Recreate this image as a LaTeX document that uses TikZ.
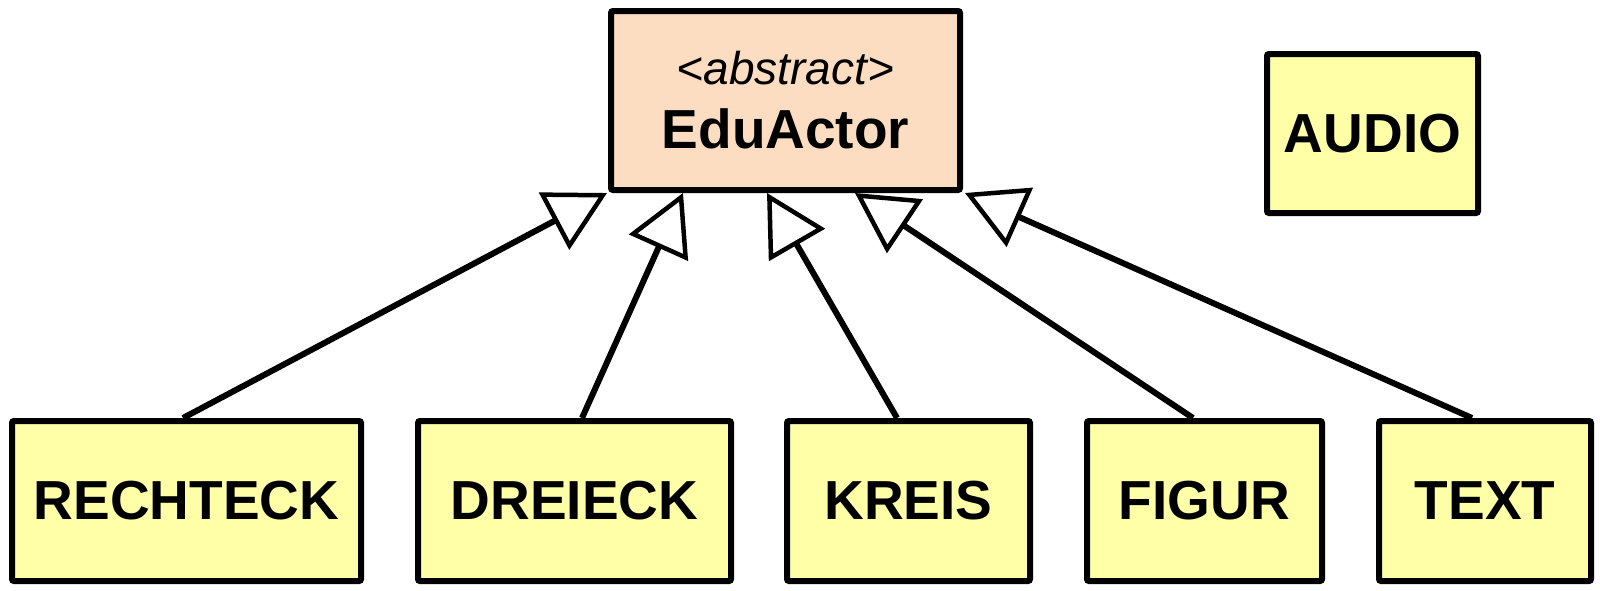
\documentclass[tikz,border=0pt]{standalone}
\usepackage{fontspec}
\setmainfont{Liberation Sans}
\usetikzlibrary{arrows.meta,calc}
\definecolor{peach}{HTML}{FCDDC1}
\definecolor{pale}{HTML}{FFFFA8}
\begin{document}
\begin{tikzpicture}[x=1pt,y=-1pt,
 box/.style={draw=black, line width=6pt, rounded corners=2pt, inner sep=0pt, anchor=center},
 child/.style={box, fill=pale, minimum height=160pt, font=\fontsize{55}{64}\selectfont\bfseries},
 gen/.style={line width=6pt, -{Triangle[open, fill=white, length=60pt, width=64pt, line width=4.5pt]}},
]
\useasboundingbox (0,0) rectangle (1600,590);
\node[box, fill=peach, minimum width=349pt, minimum height=179pt, align=center,
      font=\fontsize{55}{64}\selectfont] (edu) at (785.5,100.5)
  {{\fontsize{46}{64}\selectfont\itshape <abstract>}\\{\bfseries EduActor}};
\node[child, minimum width=211pt, minimum height=159pt] (audio) at (1372.5,133.5) {AUDIO};
\node[child, minimum width=349pt] (rechteck) at (186.5,501) {RECHTECK};
\node[child, minimum width=313pt] (dreieck) at (574.5,501) {DREIECK};
\node[child, minimum width=243pt] (kreis) at (908.5,501) {KREIS};
\node[child, minimum width=235pt] (figur) at (1204.5,501) {FIGUR};
\node[child, minimum width=212pt] (text) at (1485,501) {TEXT};
\draw[gen] ($(rechteck.north)+(-3.5,0)$) -- ($(edu.south west)+(-1,0)$);
\draw[gen] ($(dreieck.north)+(7.5,0)$) -- ($(edu.south)+(-102.5,0)$);
\draw[gen] ($(kreis.north)+(-11.5,0)$) -- ($(edu.south)+(-18.5,0)$);
\draw[gen] ($(figur.north)+(-11.5,0)$) -- ($(edu.south)+(69.5,0)$);
\draw[gen] ($(text.north)+(-13,0)$) -- ($(edu.south east)+(2,0)$);
\end{tikzpicture}
\end{document}
